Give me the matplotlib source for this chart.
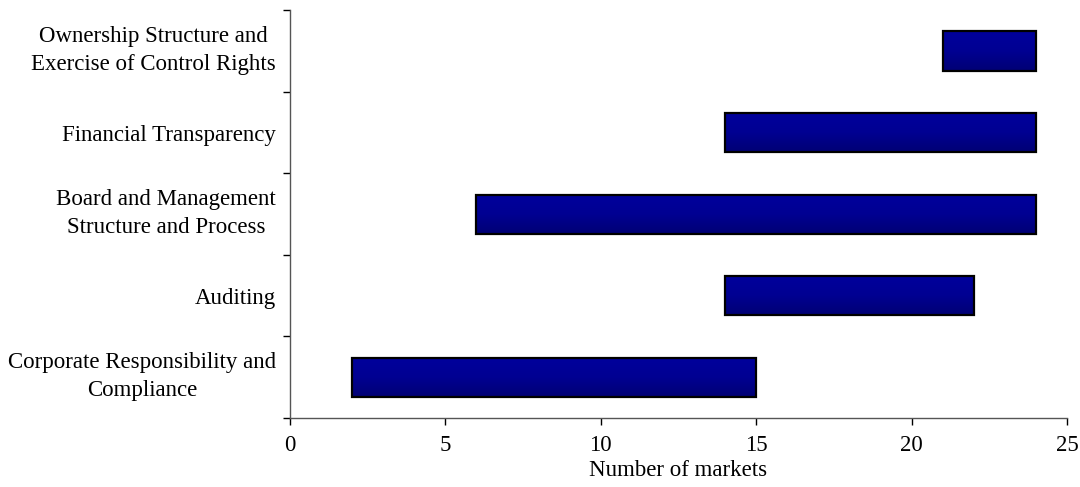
import numpy as np
import matplotlib
matplotlib.use("Agg")
import matplotlib.pyplot as plt
import matplotlib.transforms as mtransforms
from matplotlib.colors import LinearSegmentedColormap

categories = [
    "Corporate Responsibility and\nCompliance",
    "Auditing",
    "Board and Management\nStructure and Process",
    "Financial Transparency",
    "Ownership Structure and\nExercise of Control Rights",
]
range_start = [2, 14, 6, 14, 21]
range_end = [15, 22, 24, 24, 24]
x_ticks = [0, 5, 10, 15, 20, 25]

plt.rcParams["font.family"] = ["Liberation Serif", "DejaVu Serif"]
FS = 16.5

fig = plt.figure(figsize=(10.8, 4.87), dpi=100)
ax = fig.add_axes([0.2685, 0.1417, 0.7195, 0.8373])

ypos = np.arange(len(categories))
widths = [e - s for s, e in zip(range_start, range_end)]
bar_h = 0.48

bars = ax.barh(ypos, widths, left=range_start, height=bar_h,
               color="#000090", edgecolor="black", linewidth=1.6, zorder=3)

# vertical shading inside each bar: brighter at the top, darker at the bottom
cmap = LinearSegmentedColormap.from_list("navy", ["#000074", "#000092", "#00009c"])
grad = np.linspace(0, 1, 256).reshape(-1, 1)
for b in bars:
    x0, y0 = b.get_x(), b.get_y()
    w, h = b.get_width(), b.get_height()
    im = ax.imshow(grad, extent=[x0, x0 + w, y0, y0 + h], aspect="auto",
                   cmap=cmap, origin="lower", zorder=3.5, interpolation="bilinear")
    im.set_clip_path(b)
    b.set_facecolor("none")
    b.set_zorder(4)

ax.set_xlim(0, 25)
ax.set_ylim(-0.5, len(categories) - 0.5)
ax.set_xticks(x_ticks)
ax.set_xticklabels([str(t) for t in x_ticks], fontsize=FS)
ax.set_xlabel("Number of markets", fontsize=FS, labelpad=3)

ax.set_yticks(ypos)
ax.set_yticklabels(categories, fontsize=FS, multialignment="center", linespacing=1.45)
ax.set_yticks(np.arange(-0.5, len(categories)), minor=True)
ax.tick_params(axis="y", which="major", length=0, pad=10)
ax.tick_params(axis="y", which="minor", length=5, direction="out", width=1)
ax.tick_params(axis="x", which="major", length=5, direction="out", width=1, pad=7)

# two-line labels sit a little above the band centre
lift = mtransforms.ScaledTranslation(0, 7 / 100, fig.dpi_scale_trans)
for lbl in ax.get_yticklabels():
    if "\n" in lbl.get_text():
        lbl.set_transform(lbl.get_transform() + lift)

for s in ["top", "right"]:
    ax.spines[s].set_visible(False)
for s in ["left", "bottom"]:
    ax.spines[s].set_color("#555555")
    ax.spines[s].set_linewidth(1.0)

fig.savefig("out.png", dpi=100)
